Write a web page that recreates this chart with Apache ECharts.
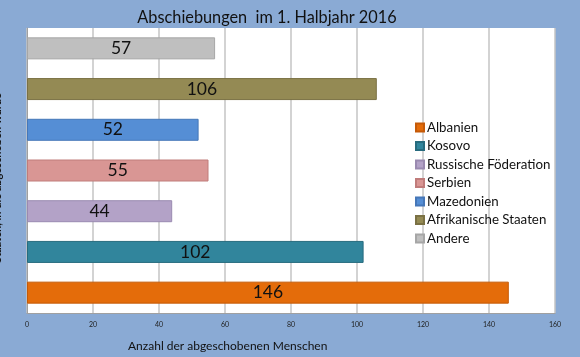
<!DOCTYPE html>
<html><head><meta charset="utf-8">
<script src="https://cdn.jsdelivr.net/npm/echarts@6/dist/echarts.min.js"></script>
<style>html,body{margin:0;padding:0;background:#8aaad4}#c{width:580px;height:357px}</style>
</head><body><div id="c"></div>
<script>
const categories = ['Albanien','Kosovo','Russische Föderation','Serbien','Mazedonien','Afrikanische Staaten','Andere'];
const values = [146, 102, 44, 55, 52, 106, 57];
const colors = ['#e46c0a','#31859c','#b3a2c7','#d99694','#558ed5','#948a54','#bfbfbf'];
const borders = ['#c55a08','#276b7e','#9a8ab0','#c07c7b','#4677b8','#7a7144','#a6a6a6'];
const xTicks = [0,20,40,60,80,100,120,140,160];
const title = 'Abschiebungen  im 1. Halbjahr 2016';
const xName = 'Anzahl der abgeschobenen Menschen';
const yName = 'Staaten, in die abgeschoben wurde';

const chart = echarts.init(document.getElementById('c'));
const series = categories.map((c, i) => ({
  name: c, type: 'bar', stack: 'all', barWidth: 22,
  data: categories.map((_, j) => j === i ? values[i] : '-'),
  itemStyle: { color: colors[i], borderColor: borders[i], borderWidth: 1 },
  label: { show: true, position: 'inside', color: '#111', fontSize: 17.5, fontFamily: 'Lato' }
}));
chart.setOption({
  backgroundColor: '#8aaad4',
  animation: false,
  title: { text: title, left: 262, textAlign: 'center', top: 5,
    textStyle: { fontFamily: 'Lato', fontSize: 16.3, fontWeight: 'normal', color: '#111' } },
  legend: { orient: 'vertical', left: 410, top: 116, itemWidth: 8, itemHeight: 8, itemGap: 5.5,
    icon: 'rect', data: categories,
    textStyle: { fontFamily: 'Lato', fontSize: 13.3, color: '#111', padding: [0,0,0,-2] } },
  grid: { left: 27, right: 25, top: 28, bottom: 44, show: true, backgroundColor: '#fff', borderWidth: 0 },
  xAxis: { type: 'value', min: xTicks[0], max: xTicks[xTicks.length-1], interval: 20,
    axisLine: { show: true, lineStyle: { color: '#a0a0a0', width: 1 } },
    axisTick: { show: false },
    axisLabel: { fontSize: 7, color: '#222', fontFamily: 'Lato', margin: 8 },
    splitLine: { lineStyle: { color: '#c4c4c4', width: 1.5 } } },
  yAxis: { type: 'category', data: categories,
    axisLine: { show: true, lineStyle: { color: '#a0a0a0' } },
    axisTick: { show: false }, axisLabel: { show: false } },
  graphic: [
    { type: 'text', left: 128, top: 340, style: { text: xName, fontFamily: 'Lato', fontSize: 12, fill: '#111' } },
    { type: 'text', x: -3, y: 178, rotation: Math.PI/2,
      style: { text: yName, fontFamily: 'Lato', fontSize: 11, fontWeight: 'bold', fill: '#111', align: 'center', verticalAlign: 'middle' } }
  ],
  series: series
});
</script></body></html>
